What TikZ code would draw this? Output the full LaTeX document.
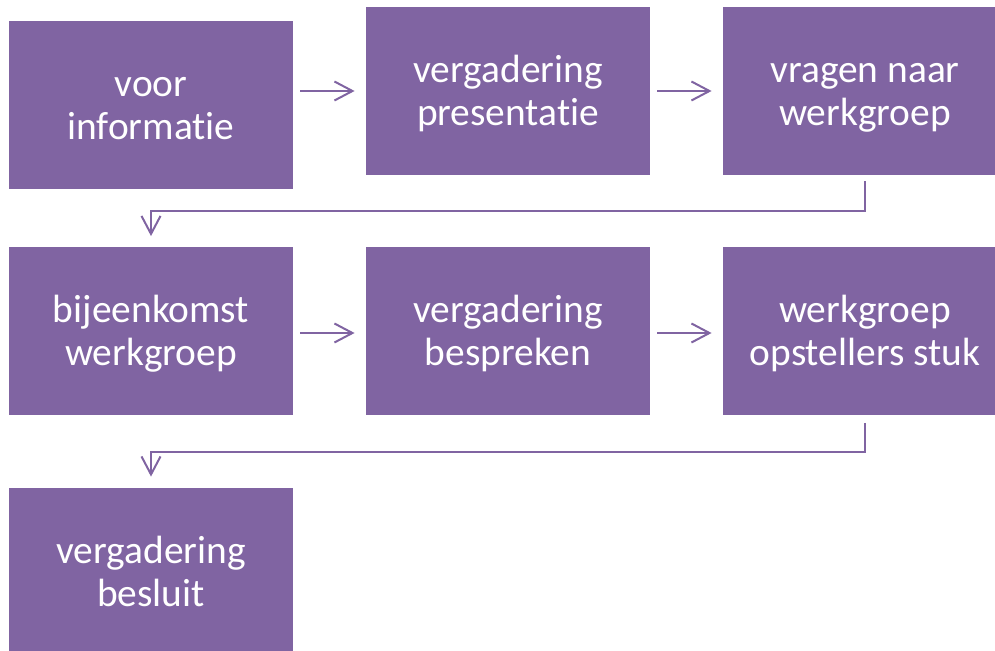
\documentclass[tikz,border=0pt]{standalone}
\usepackage{fontspec}
\setmainfont{Carlito}[Ligatures={NoCommon}]
\usetikzlibrary{arrows.meta}
\definecolor{paars}{HTML}{8064A2}
\begin{document}
\begin{tikzpicture}[x=0.5pt,y=-0.5pt,
		blok/.style={fill=paars,minimum width=142pt,minimum height=84pt,inner sep=0pt,text=white,align=center,
			font=\fontsize{19.7}{21.5}\selectfont,text height=34.5pt,text depth=0pt},
		pijl/.style={draw=paars,line width=1pt,-{Straight Barb[length=9pt,width=9.5pt]}}]
			\useasboundingbox (0,0) rectangle (995,651);
			\node[blok] (voor) at (151,105.5) {voor\\informatie};
			\node[blok] (presentatie) at (508,91) {vergadering\\presentatie};
			\node[blok] (vragen) at (865,91) {vragen naar\\werkgroep};
			\node[blok] (bijeenkomst) at (151,331.5) {bijeenkomst\\werkgroep};
			\node[blok] (bespreken) at (508,331.5) {vergadering\\bespreken};
			\node[blok] (opstellers) at (865,331.5) {werkgroep\\opstellers stuk};
			\node[blok] (besluit) at (151,572) {vergadering\\besluit};
			\coordinate (knik1) at (151,211.5);
			\coordinate (knik2) at (151,452);
			\draw[pijl,shorten <=3.5pt,shorten >=5.5pt] (voor.east |- presentatie.west) -- (presentatie.west);
			\draw[pijl,shorten <=3.5pt,shorten >=5.5pt] (presentatie.east) -- (vragen.west);
			\draw[pijl,shorten <=3pt,shorten >=5.5pt] (vragen.south) |- (knik1) -- (bijeenkomst.north);
			\draw[pijl,shorten <=3.5pt,shorten >=5.5pt] ([yshift=-0.75pt]bijeenkomst.east) -- ([yshift=-0.75pt]bespreken.west);
			\draw[pijl,shorten <=3.5pt,shorten >=5.5pt] ([yshift=-0.75pt]bespreken.east) -- ([yshift=-0.75pt]opstellers.west);
			\draw[pijl,shorten <=3.5pt,shorten >=5.5pt] (opstellers.south) |- (knik2) -- (besluit.north);
		\end{tikzpicture}
\end{document}
